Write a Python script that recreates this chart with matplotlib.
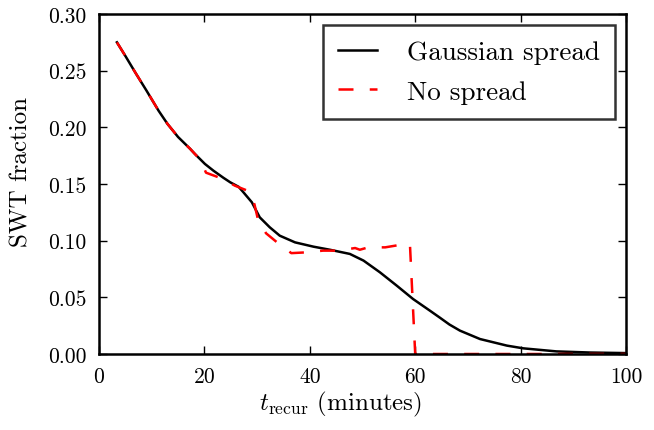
import matplotlib
matplotlib.use("Agg")
import matplotlib.pyplot as plt

plt.rcParams['font.family'] = 'serif'
plt.rcParams['font.serif'] = ['cmr10', 'DejaVu Serif']
plt.rcParams['mathtext.fontset'] = 'cm'
plt.rcParams['axes.formatter.use_mathtext'] = True

# Gaussian spread (black)
gauss_x = [3.4, 5, 7, 9, 11.3, 13, 15, 17.3, 18.2, 20.1, 21.7, 23.6, 24.9, 26.5,
           27.4, 29.0, 30.5, 32.4, 34.3, 37.2, 40.7, 43.8, 47.6, 50.2, 53.3,
           56.5, 59.6, 62.8, 64.7, 66.5, 68.5, 72.3, 77.4, 80.5, 86.8, 93.2, 100]
gauss_y = [0.275, 0.263, 0.2475, 0.2325, 0.2147, 0.203, 0.1915, 0.181, 0.1765,
           0.1677, 0.1618, 0.1555, 0.1515, 0.1475, 0.1427, 0.1339, 0.1206,
           0.1118, 0.1044, 0.0985, 0.0947, 0.092, 0.0883, 0.0824, 0.0721,
           0.0603, 0.0485, 0.0382, 0.032, 0.026, 0.0206, 0.0132, 0.0074, 0.005,
           0.0023, 0.0013, 0.0008]

# No spread (red)
nospread_x = [3.4, 5, 7, 9, 11.3, 13, 15, 17.3, 18.2, 19.3, 20.3, 23.2, 25.8, 28.5,
              29.5, 30.2, 31.7, 34.0, 36.5, 39.4, 42.5, 45.4, 48.6, 49.5, 51.1,
              54.3, 57.4, 59.0, 60.0, 100]
nospread_y = [0.275, 0.263, 0.2475, 0.2325, 0.2147, 0.203, 0.1915, 0.181, 0.1765,
              0.171, 0.160, 0.155, 0.1485, 0.1435, 0.132, 0.118, 0.1065, 0.0977,
              0.089, 0.0897, 0.0912, 0.0912, 0.0935, 0.092, 0.0941, 0.0941,
              0.0965, 0.097, 0.0, 0.0]

xticks = [0, 20, 40, 60, 80, 100]
yticks = [0.00, 0.05, 0.10, 0.15, 0.20, 0.25, 0.30]

fig = plt.figure(figsize=(6.54, 4.31), dpi=100)
ax = fig.add_axes([99/654, 1-355/431, 527/654, 340/431])

ax.plot(gauss_x, gauss_y, color='black', lw=1.8, label='Gaussian spread')
ax.plot(nospread_x, nospread_y, color='red', lw=1.8, dashes=(6, 6.5),
        label='No spread')

ax.set_xlim(0, 100)
ax.set_ylim(0, 0.30)
ax.set_xticks(xticks)
ax.set_yticks(yticks)
ax.set_xticklabels([str(v) for v in xticks])
ax.set_yticklabels([f"{v:.2f}" for v in yticks])
ax.tick_params(direction='in', length=6, width=1, top=True, right=True,
               labelsize=15.5)
ax.tick_params(axis='y', pad=9)
ax.tick_params(axis='x', pad=9)
for s in ax.spines.values():
    s.set_linewidth(1.8)

ax.set_xlabel(r"$t_{\mathrm{recur}}$ (minutes)", fontsize=18)
ax.xaxis.set_label_coords((340-99)/527, -(390-355)/340)
ax.set_ylabel("SWT fraction", fontsize=18)
ax.yaxis.set_label_coords(-(99-33)/527, (355-172)/340)

leg = ax.legend(loc='upper right', fontsize=19.5, frameon=True, fancybox=False,
                handlelength=1.45, borderaxespad=0.42, handletextpad=1.1,
                labelspacing=0.58, borderpad=0.55)
leg.get_frame().set_edgecolor('black')
leg.get_frame().set_linewidth(1.8)

fig.savefig("out.png", dpi=100)
